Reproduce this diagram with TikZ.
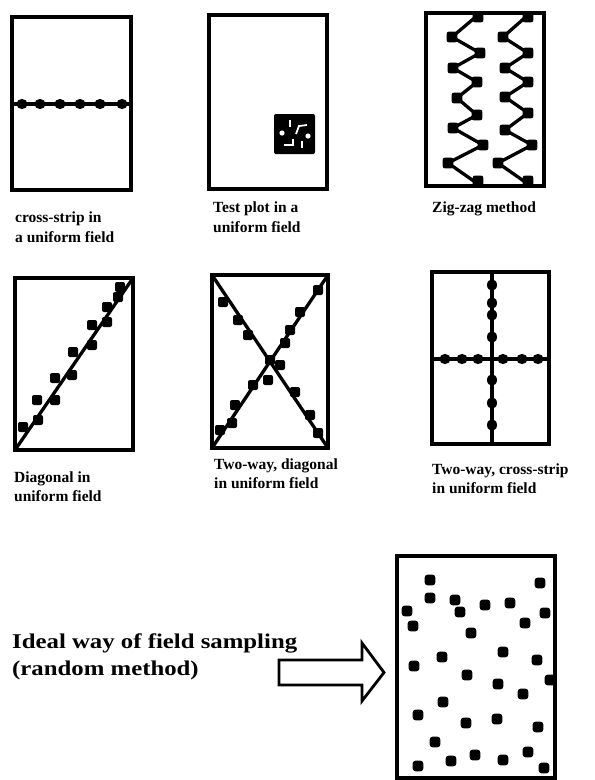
\documentclass[tikz,border=0pt]{standalone}
\usepackage{fontspec}
\setmainfont{Liberation Serif}
\newcommand\mydot[2]{\fill (#1,#2) ellipse [x radius=5.6, y radius=5.1];}
\newcommand\myvdot[2]{\fill (#1,#2) ellipse [x radius=5, y radius=5.8];}
\begin{document}
\begin{tikzpicture}[x=1pt,y=-1pt,
  frame/.style={line width=4.2pt, line join=miter},
  ln/.style={line width=3.3pt},
  captxt/.style={anchor=base west, inner sep=0pt, font=\fontsize{15.5}{18}\selectfont\bfseries},
  bigtxt/.style={anchor=base west, inner sep=0pt, font=\fontsize{21}{24}\selectfont\bfseries}]
\useasboundingbox (0,0) rectangle (595,780);

% ---- Panel 1: cross-strip
\draw[frame] (12,17) rectangle (131,190);
\draw[ln] (12,104) -- (131,104);
\foreach \x in {22,40,60,80,100,122} {\mydot{\x}{104}}
\node[captxt] (c1a) at (15,222) {cross-strip in};
\node[captxt] (c1b) at (15,242) {a uniform field};

% ---- Panel 2: test plot
\draw[frame] (209,15) rectangle (327,189);
\fill[rounded corners=2pt] (274,114) rectangle (315,154);
\fill[white] (282,133) circle (2.6);
\fill[white] (308,136) circle (2.6);
\draw[white, line width=1.8pt] (290,120) -- (290,127);
\draw[white, line width=1.8pt] (296,134) -- (299,126) -- (307,125);
\draw[white, line width=1.8pt] (284,145) -- (293,145) -- (293,139);
\draw[white, line width=1.8pt] (302,141) -- (302,148);
\node[captxt] (c2a) at (213,212) {Test plot in a};
\node[captxt] (c2b) at (213,232) {uniform field};

% ---- Panel 3: zig-zag
\draw[frame] (426,13) rectangle (544,186);
\draw[ln, line join=round] (478,15) -- (452,37) -- (480,53) -- (453,68) -- (477,82) -- (457,98) -- (477,115) -- (453,128) -- (483,145) -- (448,163) -- (478,184);
\draw[ln, line join=round] (528,15) -- (503,37) -- (528,53) -- (505,68) -- (528,82) -- (505,97) -- (528,113) -- (505,130) -- (532,145) -- (498,163) -- (528,184);
\foreach \p in {(478,17),(452,37),(480,53),(453,68),(477,82),(457,98),(477,115),(453,128),(483,145),(448,163),(478,181),
                (528,17),(503,37),(528,53),(505,68),(528,82),(505,97),(528,113),(505,130),(532,145),(498,163),(528,181)}
  {\fill[rounded corners=2pt] \p ++(-5.3,-5.3) rectangle ++(10.6,10.6);}
\node[captxt] (c3) at (432,212) {Zig-zag method};

% ---- Panel 4: diagonal
\draw[frame] (15,278) rectangle (133,450);
\draw[ln] (15,450) -- (133,278);
\foreach \p in {(23,427),(38,420),(37,400),(55,400),(55,378),(72,375),(73,352),(92,345),(92,325),(107,322),(107,307),(118,297),(120,287)}
  {\fill[rounded corners=2pt] \p ++(-5,-5) rectangle ++(10,10);}
\node[captxt] (c4a) at (14,482) {Diagonal in};
\node[captxt] (c4b) at (14,501) {uniform field};

% ---- Panel 5: two-way diagonal
\draw[frame] (212,275) rectangle (328,448);
\draw[ln] (212,275) -- (328,448);
\draw[ln] (328,275) -- (212,448);
\foreach \p in {(223,302),(238,320),(248,335),(270,360),(280,365),(295,392),(310,415),(318,433),
                (318,290),(300,312),(290,330),(285,343),(268,380),(253,385),(235,405),(232,423),(220,430)}
  {\fill[rounded corners=2pt] \p ++(-5,-5) rectangle ++(10,10);}
\node[captxt] (c5a) at (214,469) {Two-way, diagonal};
\node[captxt] (c5b) at (214,488) {in uniform field};

% ---- Panel 6: two-way cross-strip
\draw[frame] (432,272) rectangle (549,444);
\draw[ln] (432,359) -- (549,359);
\draw[ln] (492,272) -- (492,444);
\foreach \x in {445,462,478,503,522,538} {\mydot{\x}{359}}
\foreach \y in {285,303,315,337,380,403,425} {\myvdot{492}{\y}}
\node[captxt] (c6a) at (432,474) {Two-way, cross-strip};
\node[captxt] (c6b) at (432,493) {in uniform field};

% ---- Bottom: random method
\node[bigtxt] (t1) at (12,648) {\scalebox{1.18}[1]{Ideal way of field sampling}};
\node[bigtxt] (t2) at (12,675) {\scalebox{1.18}[1]{(random method)}};
\draw[line width=2.8pt, line join=miter, fill=white] (279,660) -- (362,660) -- (362,643) -- (384,672.5) -- (362,701) -- (362,685) -- (279,685) -- cycle;

\draw[frame] (397,556) rectangle (555,778);
\foreach \p in {(430,580),(540,583),(430,598),(455,600),(485,605),(510,603),(407,611),(460,612),(545,613),
                (413,626),(525,623),(471,633),(503,652),(442,657),(537,660),(414,666),(467,675),(550,680),
                (498,684),(523,694),(443,702),(418,715),(466,723),(497,719),(538,727),(435,742),(475,755),
                (451,761),(418,766),(503,760),(528,752),(544,768)}
  {\fill[rounded corners=2.8pt] \p ++(-5.3,-5.3) rectangle ++(10.6,10.6);}
\end{tikzpicture}
\end{document}
